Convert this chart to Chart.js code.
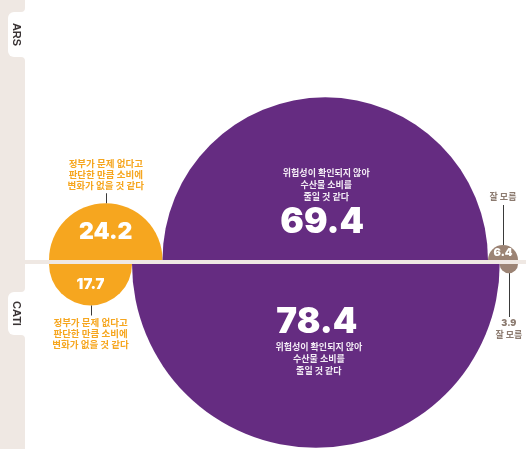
<!DOCTYPE html>
<html>
<head>
<meta charset="utf-8">
<script src="https://cdn.jsdelivr.net/npm/chart.js@4.4.1/dist/chart.umd.min.js"></script>
<style>
  html, body { margin: 0; padding: 0; background: #fff; }
  canvas { display: block; }
</style>
</head>
<body>
<canvas id="chart" width="526" height="449"></canvas>
<script>
// survey groups (one half-row each) and answer categories
const groups = ['ARS', 'CATI'];
const categories = ['변화 없음', '소비 줄임', '잘 모름'];
const categoryLabels = [
  ['정부가 문제 없다고', '판단한 만큼 소비에', '변화가 없을 것 같다'],
  ['위험성이 확인되지 않아', '수산물 소비를', '줄일 것 같다'],
  ['잘 모름']
];
const arsValues = [24.2, 69.4, 6.4];
const catiValues = [17.7, 78.4, 3.9];

const colors = ['#f6a61f', '#652c81', '#9c8475'];
const beige = '#efe8e3';
const korFont = '"Noto Sans CJK KR", "Noto Sans", sans-serif';
const numFont = 'Inter, "Noto Sans", sans-serif';

// circles sit side by side, radius proportional to value
function toPoints(values) {
  let acc = 0;
  return values.map(v => {
    const p = { x: acc + v, y: 0, v: v };
    acc += 2 * v;
    return p;
  });
}

function radiusFromScale(ctx) {
  const s = ctx.chart.scales.x;
  if (!s || !ctx.raw) return 0;
  const r = s.getPixelForValue(ctx.raw.v) - s.getPixelForValue(0);
  return isFinite(r) ? r : 0;
}

const GAP = 2; // half of the separator band

// top row is clipped to the upper half, bottom row to the lower half
const halves = {
  id: 'halves',
  beforeDatasetDraw(chart, args) {
    const ctx = chart.ctx;
    const y0 = chart.scales.y.getPixelForValue(0);
    ctx.save();
    ctx.beginPath();
    if (args.index === 0) {
      ctx.rect(0, 0, chart.width, y0 - GAP);
      ctx.clip();
      ctx.translate(0, -GAP);
    } else {
      ctx.rect(0, y0 + GAP, chart.width, chart.height);
      ctx.clip();
      ctx.translate(0, GAP);
    }
  },
  afterDatasetDraw(chart) {
    chart.ctx.restore();
  }
};

// left side strip with ARS / CATI tabs
const sidebar = {
  id: 'sidebar',
  beforeDraw(chart) {
    const ctx = chart.ctx;
    const W = 25;
    ctx.save();
    ctx.fillStyle = beige;
    ctx.fillRect(0, 0, W, chart.height);
    const tabs = [[12, 57], [292, 335]];
    tabs.forEach((t, k) => {
      const top = t[0], bot = t[1], f = 4;
      ctx.fillStyle = '#fff';
      ctx.beginPath();
      ctx.roundRect(8, top, W - 8 + 1, bot - top, [6, 0, 0, 6]);
      ctx.fill();
      // concave fillets where the tab meets the strip edge
      ctx.beginPath();
      ctx.moveTo(W - f, top);
      ctx.arc(W - f, top - f, f, Math.PI / 2, 0, true);
      ctx.lineTo(W + 1, top);
      ctx.closePath();
      ctx.fill();
      ctx.beginPath();
      ctx.moveTo(W - f, bot);
      ctx.arc(W - f, bot + f, f, -Math.PI / 2, 0, false);
      ctx.lineTo(W + 1, bot);
      ctx.closePath();
      ctx.fill();

      ctx.save();
      ctx.translate(16, (top + bot) / 2);
      ctx.rotate(Math.PI / 2);
      ctx.fillStyle = '#3a3435';
      ctx.font = 'bold 11px "Liberation Sans", Arial, sans-serif';
      ctx.textAlign = 'center';
      ctx.textBaseline = 'middle';
      ctx.fillText(groups[k], 0, 0);
      ctx.restore();
    });
    ctx.restore();
  },
  afterDatasetsDraw(chart) {
    const ctx = chart.ctx;
    const y0 = chart.scales.y.getPixelForValue(0);
    ctx.save();
    ctx.fillStyle = beige;
    ctx.fillRect(25, y0 - GAP, chart.width - 25, GAP * 2);
    ctx.restore();
  }
};

function lines(ctx, arr, x, y, lh) {
  arr.forEach((s, i) => ctx.fillText(s, x, y + i * lh));
}

function leader(ctx, x, y1, y2) {
  ctx.strokeStyle = '#3a3a3a';
  ctx.lineWidth = 1;
  ctx.beginPath();
  ctx.moveTo(Math.round(x) + 0.5, y1);
  ctx.lineTo(Math.round(x) + 0.5, y2);
  ctx.stroke();
}

// values and answer texts
const labels = {
  id: 'labels',
  afterDraw(chart) {
    const ctx = chart.ctx;
    const y0 = chart.scales.y.getPixelForValue(0);
    ctx.save();
    ctx.textAlign = 'center';
    ctx.textBaseline = 'middle';
    chart.data.datasets.forEach((ds, d) => {
      const dir = d === 0 ? -1 : 1;
      const cy = y0 + dir * GAP;
      chart.getDatasetMeta(d).data.forEach((el, i) => {
        const cx = el.x;
        const r = el.options.radius;
        const val = ds.data[i].v.toFixed(1);
        if (i === 0) {
          ctx.fillStyle = '#fff';
          ctx.font = '900 ' + (d === 0 ? 23 : 15) + 'px ' + numFont;
          ctx.fillText(val, cx, cy + dir * r * 0.5);
          leader(ctx, cx, cy + dir * r, cy + dir * (r + 10));
          ctx.fillStyle = colors[0];
          ctx.font = 'bold 9.5px ' + korFont;
          const start = d === 0 ? cy - r - 40 : cy + r + 17;
          lines(ctx, categoryLabels[0], cx, start, 11);
        } else if (i === 1) {
          ctx.fillStyle = '#fff';
          ctx.font = '900 35px ' + numFont;
          const vy = d === 0 ? cy - 38 : cy + 58;
          ctx.fillText(val, d === 0 ? cx - 3 : cx + 1, vy);
          ctx.fillStyle = '#f3ecf5';
          ctx.font = 'bold 9px ' + korFont;
          const start = d === 0 ? cy - 87 : cy + 83;
          lines(ctx, categoryLabels[1], d === 0 ? cx + 1 : cx + 3, start, 12);
        } else {
          if (d === 0) {
            ctx.fillStyle = '#fff';
            ctx.font = '900 11px ' + numFont;
            ctx.fillText(val, cx, cy - r * 0.5);
            leader(ctx, cx, cy - r, cy - 55);
            ctx.fillStyle = '#8c7b70';
            ctx.font = 'bold 9px ' + korFont;
            ctx.fillText(categoryLabels[2][0], cx, cy - 63);
          } else {
            leader(ctx, cx, cy + r, cy + 53);
            ctx.fillStyle = '#8c7b70';
            ctx.font = '900 9px ' + numFont;
            ctx.fillText(val, cx, cy + 59);
            ctx.font = 'bold 9px ' + korFont;
            ctx.fillText(categoryLabels[2][0], cx, cy + 71);
          }
        }
      });
    });
    ctx.restore();
  }
};

function makeDataset(label, values) {
  return {
    label: label,
    data: toPoints(values),
    showLine: false,
    pointStyle: 'circle',
    pointRadius: radiusFromScale,
    pointHoverRadius: radiusFromScale,
    pointBackgroundColor: colors,
    pointBorderWidth: 0,
    clip: false
  };
}

new Chart(document.getElementById('chart'), {
  type: 'scatter',
  data: {
    datasets: [makeDataset(groups[0], arsValues), makeDataset(groups[1], catiValues)]
  },
  options: {
    responsive: false,
    animation: false,
    events: [],
    layout: { padding: { left: 49, right: 8, top: 75, bottom: 0 } },
    plugins: {
      legend: { display: false },
      tooltip: { enabled: false }
    },
    scales: {
      x: { type: 'linear', min: 0, max: 200, display: false },
      y: { type: 'linear', min: -1, max: 1, display: false }
    }
  },
  plugins: [sidebar, halves, labels]
});
</script>
</body>
</html>
